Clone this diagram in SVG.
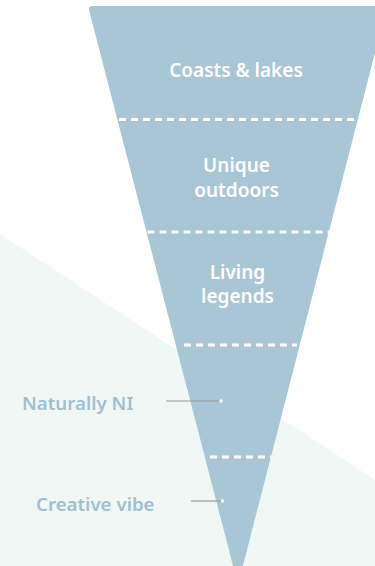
<svg xmlns="http://www.w3.org/2000/svg" width="375" height="566" viewBox="0 0 375 566">
<style>
.in{font-family:"Noto Sans","DejaVu Sans",sans-serif;font-weight:600;font-size:19px;fill:#ffffff;text-anchor:middle}
.lb{font-family:"Noto Sans","DejaVu Sans",sans-serif;font-weight:600;font-size:18.7px;fill:#9fc0d0}
.dash{stroke:#ffffff;stroke-width:3;stroke-dasharray:7 5}
.lead{stroke:#9a9a9a;stroke-width:1.2}
.dot{fill:#ffffff}
</style>
<rect width="375" height="566" fill="#ffffff"/>
<polygon id="background" points="0,234 375,480 375,566 0,566" fill="#eff8f5"/>
<g id="funnel">
<path d="M93,6 L387,6 L238,585 L89,10 Q88,6 93,6 Z" fill="#a9c6d6"/>
</g>
<g id="connectors">
<line class="dash" x1="119" y1="119.5" x2="359" y2="119.5"/>
<line class="dash" x1="147.5" y1="232" x2="329" y2="232"/>
<line class="dash" x1="184" y1="345" x2="297" y2="345"/>
<line class="dash" x1="210" y1="457" x2="271" y2="457"/>
<line class="lead" x1="166" y1="401" x2="221" y2="401"/>
<circle class="dot" cx="221" cy="401" r="1.8"/>
<line class="lead" x1="191" y1="501" x2="222.5" y2="501"/>
<circle class="dot" cx="222.5" cy="501" r="1.8"/>
</g>
<g id="coasts-lakes"><text class="in" x="236" y="77">Coasts &amp; lakes</text></g>
<g id="unique-outdoors"><text class="in" x="236.5" y="172">Unique</text><text class="in" x="236.5" y="197">outdoors</text></g>
<g id="living-legends"><text class="in" x="237.5" y="279">Living</text><text class="in" x="237.5" y="303">legends</text></g>
<g id="naturally-ni"><text class="lb" x="22" y="410">Naturally NI</text></g>
<g id="creative-vibe"><text class="lb" x="36" y="511">Creative vibe</text></g>
</svg>
